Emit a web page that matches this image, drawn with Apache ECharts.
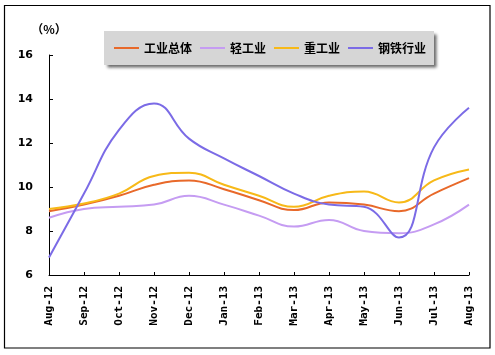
<!DOCTYPE html>
<html><head><meta charset="utf-8">
<script src="https://cdn.jsdelivr.net/npm/echarts@6/dist/echarts.min.js"></script>
<style>html,body{margin:0;padding:0;background:#fff}#c{width:495px;height:355px}</style>
</head><body><div id="c"></div>
<script>
const categories = ['Aug-12','Sep-12','Oct-12','Nov-12','Dec-12','Jan-13','Feb-13','Mar-13','Apr-13','May-13','Jun-13','Jul-13','Aug-13'];
const industryTotal = [8.9, 9.2, 9.6, 10.1, 10.3, 9.9, 9.4, 8.95, 9.3, 9.2, 8.9, 9.7, 10.4];
const lightIndustry = [8.6, 9.0, 9.1, 9.2, 9.6, 9.2, 8.7, 8.2, 8.5, 8.0, 7.9, 8.3, 9.2];
const heavyIndustry = [9.0, 9.25, 9.7, 10.5, 10.65, 10.1, 9.6, 9.1, 9.6, 9.8, 9.3, 10.3, 10.8];
const steelIndustry = [6.8, 9.7, 12.6, 13.8, 12.2, 11.3, 10.5, 9.7, 9.2, 9.1, 7.7, 11.8, 13.6];
const yTicks = { min: 6, max: 16, interval: 2 };

const chart = echarts.init(document.getElementById('c'));
const labelFont = 'DejaVu Sans';
function mk(name, data, color) {
  return { name, type: 'line', data, smooth: 0.45, showSymbol: false, symbol: 'none',
    lineStyle: { color, width: 2 }, itemStyle: { color } };
}
chart.setOption({
  animation: false,
  backgroundColor: '#fff',
  graphic: [{ type: 'rect', shape: { x: 4.5, y: 5.5, width: 485.5, height: 342.5 },
    style: { fill: 'none', stroke: '#000', lineWidth: 1.2 }, z: -1 }],
  grid: { left: 49, right: 26, top: 55, bottom: 80 },
  legend: {
    left: 104, top: 31, icon: 'rect', itemWidth: 25, itemHeight: 2, itemGap: 8,
    padding: [11, 8, 11, 10],
    backgroundColor: '#d6d6d6',
    shadowColor: 'rgba(0,0,0,0.6)', shadowBlur: 3, shadowOffsetX: 3, shadowOffsetY: 3,
    textStyle: { fontFamily: 'Noto Sans CJK SC', fontWeight: 'bold', fontSize: 12, color: '#000' },
    data: ['工业总体','轻工业','重工业','钢铁行业']
  },
  xAxis: {
    type: 'category', boundaryGap: false, data: categories,
    axisLine: { lineStyle: { color: '#000', width: 1 } },
    axisTick: { inside: true, length: 3, lineStyle: { color: '#000' } },
    axisLabel: { rotate: 90, margin: 11, fontFamily: 'DejaVu Sans Mono', fontWeight: 'bold', fontSize: 11, color: '#000' },
    splitLine: { show: false }
  },
  yAxis: {
    type: 'value', min: yTicks.min, max: yTicks.max, interval: yTicks.interval,
    name: '（%）', nameLocation: 'end', nameGap: 20,
    nameTextStyle: { fontFamily: 'Noto Sans CJK SC', fontWeight: 'bold', fontSize: 12, color: '#000', align: 'center', padding: [0, 0, 0, 0] },
    axisLine: { show: true, lineStyle: { color: '#000', width: 1 } },
    axisTick: { show: true, inside: true, length: 4, lineStyle: { color: '#000' } },
    axisLabel: { margin: 16, fontFamily: labelFont, fontWeight: 'bold', fontSize: 11, color: '#000' },
    splitLine: { show: false }
  },
  series: [
    mk('工业总体', industryTotal, '#e8692a'),
    mk('轻工业', lightIndustry, '#c59cf2'),
    mk('重工业', heavyIndustry, '#f7b918'),
    mk('钢铁行业', steelIndustry, '#7b6be6')
  ]
});
</script></body></html>
